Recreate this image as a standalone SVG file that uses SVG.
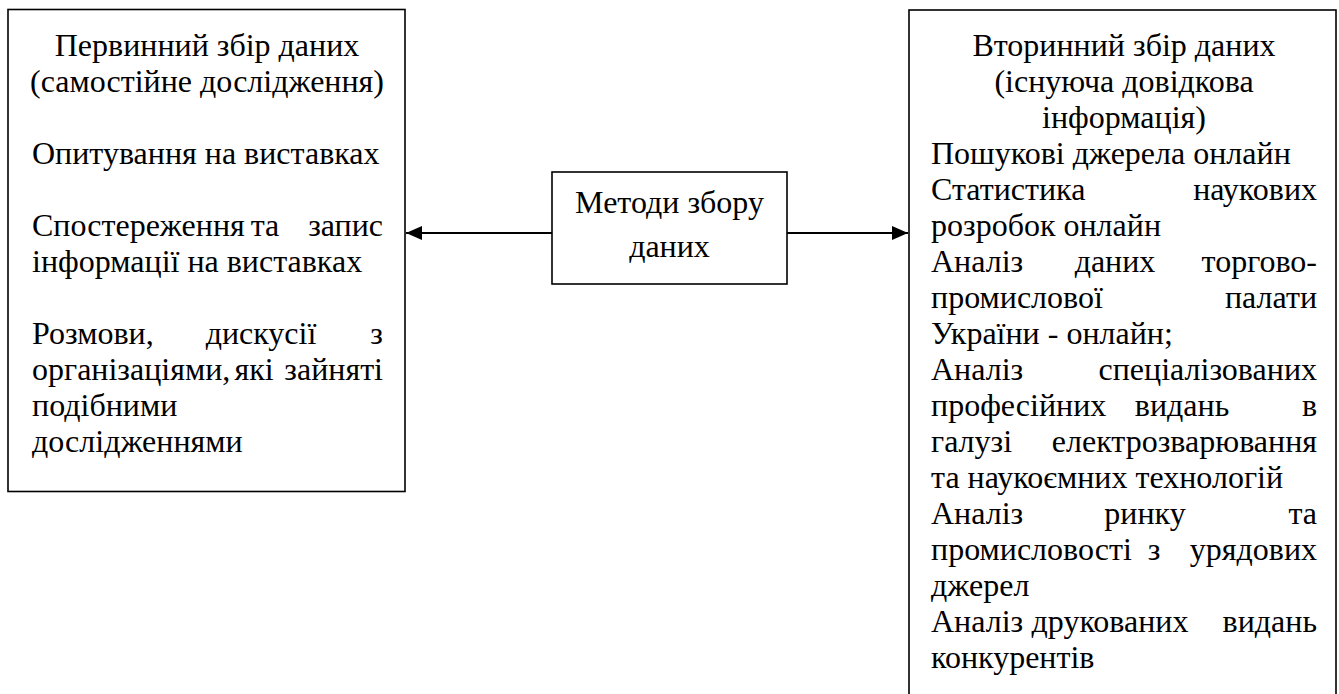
<svg xmlns="http://www.w3.org/2000/svg" width="1339" height="694" viewBox="0 0 1339 694" lang="uk">
  <style>
    .box { fill: #ffffff; stroke: #000000; stroke-width: 1.6; }
    .edge { stroke: #000000; stroke-width: 1.8; fill: none; }
    .t { font-family: Tinos, 'Liberation Serif', 'Times New Roman', serif; font-size: 32px; fill: #000000; }
    .c { text-anchor: middle; }
    .r { text-anchor: end; }
  </style>
  <defs>
    <marker id="arrow" viewBox="0 0 16 14" refX="16" refY="7" markerWidth="16" markerHeight="14" markerUnits="userSpaceOnUse" orient="auto">
      <path d="M0,0 L16,7 L0,14 Z" fill="#000000"/>
    </marker>
  </defs>
  <rect width="1339" height="694" fill="#ffffff"/>

  <!-- connectors from the central node to both side boxes -->
  <g id="connectors">
    <line class="edge" x1="552" y1="233" x2="406" y2="233" marker-end="url(#arrow)"/>
    <line class="edge" x1="787" y1="233" x2="908" y2="233" marker-end="url(#arrow)"/>
  </g>

  <!-- primary data collection; justified lines are set word by word -->
  <g id="primary">
    <rect class="box" x="8" y="9.5" width="397" height="482"/>
    <text class="t c" x="207" y="56">Первинний збір даних</text>
    <text class="t c" x="207" y="92">(самостійне дослідження)</text>
    <text class="t" x="32" y="164">Опитування на виставках</text>
    <text class="t" x="32" y="236">Спостереження</text>
    <text class="t c" x="265" y="236">та</text>
    <text class="t r" x="383" y="236">запис</text>
    <text class="t" x="32" y="272">інформації на виставках</text>
    <text class="t" x="32" y="344">Розмови,</text>
    <text class="t c" x="261" y="344">дискусії</text>
    <text class="t r" x="383" y="344">з</text>
    <text class="t" x="32" y="380">організаціями,</text>
    <text class="t c" x="254" y="380">які</text>
    <text class="t r" x="383" y="380">зайняті</text>
    <text class="t" x="32" y="416">подібними</text>
    <text class="t" x="32" y="452">дослідженнями</text>
  </g>

  <!-- central node -->
  <g id="methods">
    <rect class="box" x="552" y="172" width="235" height="112"/>
    <text class="t c" x="669.5" y="213">Методи збору</text>
    <text class="t c" x="669.5" y="257">даних</text>
  </g>

  <!-- secondary data collection; the box runs past the lower edge -->
  <g id="secondary">
    <rect class="box" x="909" y="10" width="427" height="700"/>
    <text class="t c" x="1124" y="56">Вторинний збір даних</text>
    <text class="t c" x="1124" y="92">(існуюча довідкова</text>
    <text class="t c" x="1124" y="128">інформація)</text>
    <text class="t" x="931" y="164">Пошукові джерела онлайн</text>
    <text class="t" x="931" y="200">Статистика</text>
    <text class="t r" x="1317" y="200">наукових</text>
    <text class="t" x="931" y="236">розробок онлайн</text>
    <text class="t" x="931" y="272">Аналіз</text>
    <text class="t c" x="1115" y="272">даних</text>
    <text class="t r" x="1317" y="272">торгово-</text>
    <text class="t" x="931" y="308">промислової</text>
    <text class="t r" x="1317" y="308">палати</text>
    <text class="t" x="931" y="344">України - онлайн;</text>
    <text class="t" x="931" y="380">Аналіз</text>
    <text class="t r" x="1317" y="380">спеціалізованих</text>
    <text class="t" x="931" y="416">професійних</text>
    <text class="t c" x="1182" y="416">видань</text>
    <text class="t r" x="1317" y="416">в</text>
    <text class="t" x="931" y="452">галузі</text>
    <text class="t r" x="1317" y="452">електрозварювання</text>
    <text class="t" x="931" y="488">та наукоємних технологій</text>
    <text class="t" x="931" y="524">Аналіз</text>
    <text class="t c" x="1145" y="524">ринку</text>
    <text class="t r" x="1317" y="524">та</text>
    <text class="t" x="931" y="560">промисловості</text>
    <text class="t c" x="1154" y="560">з</text>
    <text class="t r" x="1317" y="560">урядових</text>
    <text class="t" x="931" y="596">джерел</text>
    <text class="t" x="931" y="632">Аналіз</text>
    <text class="t c" x="1110" y="632">друкованих</text>
    <text class="t r" x="1317" y="632">видань</text>
    <text class="t" x="931" y="668">конкурентів</text>
  </g>
</svg>
